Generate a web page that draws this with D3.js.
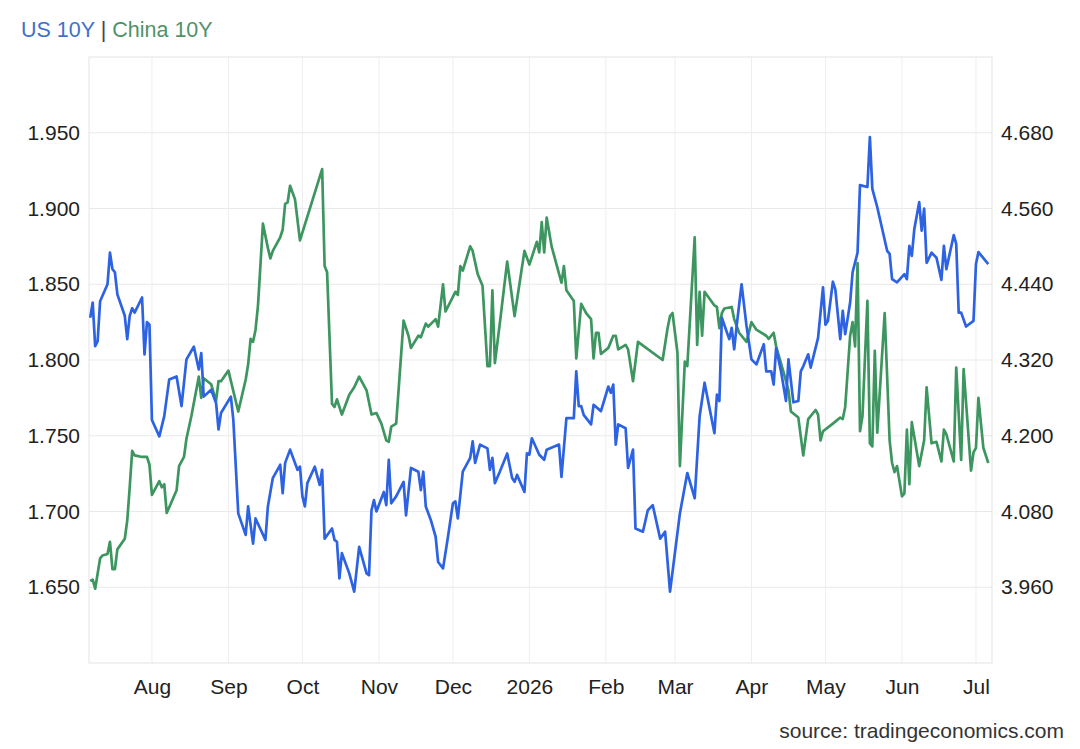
<!DOCTYPE html>
<html>
<head>
<meta charset="utf-8">
<script src="https://cdn.jsdelivr.net/npm/d3@7"></script>
<style>
  body { margin: 0; background: #fff; }
  text { font-family: "Liberation Sans", Arial, sans-serif; }
</style>
</head>
<body>
<div class="chart"></div>
<script>
// US 10Y (right axis)
const usDates = [
  "2025-07-07","2025-07-08","2025-07-09","2025-07-10","2025-07-11","2025-07-14","2025-07-15","2025-07-16","2025-07-17","2025-07-18",
  "2025-07-21","2025-07-22","2025-07-23","2025-07-24","2025-07-25","2025-07-28","2025-07-29","2025-07-30","2025-07-31","2025-08-01",
  "2025-08-04","2025-08-06","2025-08-08","2025-08-11","2025-08-13","2025-08-15","2025-08-18","2025-08-20","2025-08-21","2025-08-22",
  "2025-08-25","2025-08-27","2025-08-28","2025-08-29","2025-09-02","2025-09-03","2025-09-05","2025-09-08","2025-09-09","2025-09-11",
  "2025-09-12","2025-09-16","2025-09-17","2025-09-19","2025-09-22","2025-09-23","2025-09-24","2025-09-26","2025-09-29","2025-09-30",
  "2025-10-01","2025-10-02","2025-10-03","2025-10-06","2025-10-08","2025-10-09","2025-10-10","2025-10-13","2025-10-14","2025-10-15",
  "2025-10-16","2025-10-17","2025-10-20","2025-10-22","2025-10-24","2025-10-27","2025-10-28","2025-10-29","2025-10-30","2025-10-31",
  "2025-11-03","2025-11-04","2025-11-05","2025-11-06","2025-11-08","2025-11-11","2025-11-12","2025-11-14","2025-11-17","2025-11-18",
  "2025-11-19","2025-11-20","2025-11-22","2025-11-24","2025-11-25","2025-11-27","2025-11-29","2025-12-01","2025-12-02","2025-12-03",
  "2025-12-05","2025-12-08","2025-12-09","2025-12-10","2025-12-12","2025-12-15","2025-12-16","2025-12-17","2025-12-18","2025-12-20",
  "2025-12-23","2025-12-25","2025-12-26","2025-12-27","2025-12-30","2025-12-31","2026-01-01","2026-01-02","2026-01-05","2026-01-07",
  "2026-01-08","2026-01-13","2026-01-14","2026-01-16","2026-01-19","2026-01-20","2026-01-21","2026-01-22","2026-01-23","2026-01-26",
  "2026-01-27","2026-01-30","2026-02-02","2026-02-03","2026-02-04","2026-02-05","2026-02-06","2026-02-09","2026-02-10","2026-02-12",
  "2026-02-13","2026-02-16","2026-02-18","2026-02-20","2026-02-23","2026-02-25","2026-02-27","2026-03-03","2026-03-06","2026-03-09",
  "2026-03-11","2026-03-13","2026-03-17","2026-03-18","2026-03-19","2026-03-20","2026-03-23","2026-03-24","2026-03-25","2026-03-26",
  "2026-03-28","2026-03-30","2026-04-01","2026-04-03","2026-04-06","2026-04-07","2026-04-09","2026-04-10","2026-04-11","2026-04-13",
  "2026-04-15","2026-04-16","2026-04-18","2026-04-20","2026-04-21","2026-04-22","2026-04-24","2026-04-25","2026-04-28","2026-04-30",
  "2026-05-01","2026-05-02","2026-05-04","2026-05-05","2026-05-07","2026-05-08","2026-05-09","2026-05-11","2026-05-12","2026-05-14",
  "2026-05-15","2026-05-18","2026-05-19","2026-05-20","2026-05-22","2026-05-26","2026-05-27","2026-05-28","2026-05-30","2026-06-02",
  "2026-06-03","2026-06-04","2026-06-05","2026-06-06","2026-06-08","2026-06-09","2026-06-10","2026-06-11","2026-06-13","2026-06-15",
  "2026-06-17","2026-06-18","2026-06-19","2026-06-22","2026-06-23","2026-06-24","2026-06-25","2026-06-27","2026-06-30","2026-07-01",
  "2026-07-02","2026-07-06"
];
const usValues = [
  4.387,4.411,4.342,4.350,4.413,4.440,4.490,4.464,4.459,4.424,
  4.390,4.353,4.390,4.402,4.395,4.419,4.329,4.380,4.376,4.225,
  4.199,4.231,4.289,4.294,4.247,4.321,4.341,4.305,4.331,4.262,
  4.273,4.252,4.210,4.236,4.262,4.225,4.077,4.043,4.088,4.029,
  4.069,4.035,4.088,4.133,4.154,4.109,4.157,4.178,4.146,4.151,
  4.104,4.088,4.125,4.151,4.122,4.146,4.037,4.053,4.035,4.032,
  3.974,4.014,3.982,3.953,4.024,3.982,3.979,4.082,4.098,4.080,
  4.111,4.090,4.162,4.093,4.104,4.127,4.074,4.149,4.143,4.114,
  4.143,4.088,4.067,4.040,4.000,3.990,4.040,4.093,4.096,4.069,
  4.143,4.165,4.191,4.157,4.186,4.180,4.146,4.165,4.125,4.143,
  4.172,4.133,4.127,4.138,4.111,4.172,4.170,4.196,4.170,4.162,
  4.178,4.186,4.135,4.228,4.228,4.302,4.247,4.247,4.233,4.218,
  4.249,4.239,4.278,4.268,4.281,4.186,4.218,4.212,4.149,4.178,
  4.053,4.048,4.082,4.090,4.037,4.048,3.953,4.077,4.141,4.101,
  4.231,4.284,4.204,4.265,4.255,4.387,4.353,4.371,4.337,4.374,
  4.440,4.374,4.321,4.313,4.345,4.302,4.302,4.281,4.339,4.302,
  4.255,4.321,4.253,4.255,4.302,4.310,4.329,4.308,4.355,4.435,
  4.376,4.382,4.444,4.432,4.353,4.398,4.361,4.411,4.459,4.490,
  4.597,4.594,4.673,4.591,4.562,4.493,4.488,4.448,4.443,4.456,
  4.448,4.501,4.485,4.527,4.570,4.525,4.560,4.474,4.490,4.482,
  4.447,4.501,4.464,4.518,4.504,4.395,4.395,4.373,4.382,4.472,
  4.491,4.472
];

// China 10Y (left axis)
const cnDates = [
  "2025-07-07","2025-07-08","2025-07-09","2025-07-11","2025-07-12","2025-07-14","2025-07-15","2025-07-16","2025-07-17","2025-07-18",
  "2025-07-21","2025-07-22","2025-07-23","2025-07-24","2025-07-25","2025-07-28","2025-07-30","2025-07-31","2025-08-01","2025-08-04",
  "2025-08-05","2025-08-06","2025-08-07","2025-08-11","2025-08-12","2025-08-14","2025-08-15","2025-08-17","2025-08-20","2025-08-21",
  "2025-08-22","2025-08-25","2025-08-27","2025-08-28","2025-08-29","2025-09-01","2025-09-05","2025-09-08","2025-09-09","2025-09-10",
  "2025-09-11","2025-09-12","2025-09-13","2025-09-15","2025-09-17","2025-09-18","2025-09-19","2025-09-22","2025-09-23","2025-09-24",
  "2025-09-25","2025-09-26","2025-09-28","2025-09-30","2025-10-09","2025-10-10","2025-10-11","2025-10-13","2025-10-14","2025-10-15",
  "2025-10-17","2025-10-20","2025-10-22","2025-10-24","2025-10-27","2025-10-29","2025-10-31","2025-11-02","2025-11-04","2025-11-05",
  "2025-11-06","2025-11-08","2025-11-11","2025-11-13","2025-11-14","2025-11-17","2025-11-18","2025-11-20","2025-11-21","2025-11-24",
  "2025-11-25","2025-11-27","2025-11-28","2025-12-02","2025-12-03","2025-12-04","2025-12-05","2025-12-08","2025-12-09","2025-12-11",
  "2025-12-13","2025-12-15","2025-12-16","2025-12-17","2025-12-18","2025-12-20","2025-12-23","2025-12-26","2025-12-30","2026-01-01",
  "2026-01-04","2026-01-05","2026-01-06","2026-01-07","2026-01-08","2026-01-10","2026-01-14","2026-01-15","2026-01-16","2026-01-19",
  "2026-01-20","2026-01-22","2026-01-24","2026-01-26","2026-01-27","2026-01-28","2026-01-29","2026-01-30","2026-02-02","2026-02-04",
  "2026-02-05","2026-02-06","2026-02-09","2026-02-10","2026-02-12","2026-02-14","2026-02-24","2026-02-26","2026-02-27","2026-02-28",
  "2026-03-02","2026-03-03","2026-03-05","2026-03-06","2026-03-09","2026-03-10","2026-03-11","2026-03-12","2026-03-13","2026-03-17",
  "2026-03-18","2026-03-19","2026-03-20","2026-03-21","2026-03-24","2026-03-25","2026-03-27","2026-03-30","2026-04-01","2026-04-03",
  "2026-04-07","2026-04-08","2026-04-10","2026-04-11","2026-04-14","2026-04-16","2026-04-17","2026-04-20","2026-04-22","2026-04-24",
  "2026-04-27","2026-04-28","2026-04-29","2026-04-30","2026-05-04","2026-05-07","2026-05-08","2026-05-09","2026-05-11","2026-05-12",
  "2026-05-13","2026-05-14","2026-05-15","2026-05-16","2026-05-18","2026-05-19","2026-05-20","2026-05-21","2026-05-22","2026-05-25",
  "2026-05-27","2026-05-28","2026-05-29","2026-05-30","2026-06-01","2026-06-02","2026-06-03","2026-06-04","2026-06-05","2026-06-08",
  "2026-06-10","2026-06-11","2026-06-13","2026-06-15","2026-06-17","2026-06-18","2026-06-19","2026-06-22","2026-06-23","2026-06-25",
  "2026-06-26","2026-06-29","2026-06-30","2026-07-01","2026-07-02","2026-07-04","2026-07-06"
];
const cnValues = [
  1.654,1.655,1.649,1.669,1.671,1.672,1.680,1.662,1.662,1.675,
  1.682,1.694,1.716,1.740,1.737,1.736,1.736,1.731,1.711,1.720,
  1.716,1.718,1.699,1.714,1.730,1.736,1.748,1.763,1.789,1.775,
  1.788,1.784,1.773,1.786,1.786,1.793,1.766,1.787,1.797,1.814,
  1.812,1.820,1.836,1.890,1.874,1.867,1.872,1.881,1.886,1.903,
  1.904,1.915,1.906,1.879,1.926,1.862,1.858,1.771,1.769,1.774,
  1.764,1.777,1.782,1.789,1.780,1.764,1.765,1.758,1.747,1.746,
  1.756,1.758,1.826,1.816,1.808,1.816,1.815,1.824,1.822,1.827,
  1.822,1.850,1.832,1.845,1.843,1.862,1.859,1.875,1.872,1.857,
  1.849,1.796,1.796,1.846,1.798,1.824,1.865,1.829,1.872,1.863,
  1.878,1.871,1.891,1.871,1.894,1.875,1.851,1.862,1.846,1.839,
  1.801,1.837,1.831,1.827,1.801,1.818,1.818,1.804,1.808,1.816,
  1.816,1.807,1.810,1.807,1.786,1.812,1.800,1.821,1.829,1.831,
  1.805,1.730,1.799,1.796,1.881,1.810,1.845,1.816,1.845,1.836,
  1.835,1.821,1.831,1.834,1.835,1.827,1.818,1.812,1.825,1.820,
  1.816,1.814,1.818,1.809,1.792,1.780,1.766,1.762,1.737,1.761,
  1.767,1.764,1.747,1.753,1.758,1.762,1.761,1.769,1.816,1.825,
  1.809,1.864,1.753,1.763,1.839,1.745,1.743,1.806,1.752,1.831,
  1.747,1.732,1.726,1.730,1.710,1.712,1.754,1.718,1.759,1.730,
  1.747,1.782,1.745,1.746,1.733,1.754,1.751,1.733,1.795,1.734,
  1.794,1.727,1.739,1.742,1.775,1.742,1.732
];

const leftTicks = [1.65, 1.70, 1.75, 1.80, 1.85, 1.90, 1.95];
const rightTicks = [3.96, 4.08, 4.20, 4.32, 4.44, 4.56, 4.68];

const usColor = '#2d63e2';
const cnColor = '#3d9660';

const width = 1080, height = 749;
const margin = {top: 57, right: 88, bottom: 86, left: 89};
const graphWidth = width - margin.left - margin.right;
const graphHeight = height - margin.top - margin.bottom;

const parseDate = d3.timeParse('%Y-%m-%d');
const usData = usDates.map((d, i) => ({date: parseDate(d), value: usValues[i]}));
const cnData = cnDates.map((d, i) => ({date: parseDate(d), value: cnValues[i]}));

const svg = d3.select('.chart').append('svg')
    .attr('width', width)
    .attr('height', height);

const graph = svg.append('g')
    .attr('transform', `translate(${margin.left}, ${margin.top})`);

// scales
const x = d3.scaleTime()
    .domain([new Date(2025, 6, 6, 12), new Date(2026, 6, 7, 12)])
    .range([0, graphWidth]);

const yLeft = d3.scaleLinear()
    .domain([1.6, 2.0])
    .range([graphHeight, 0]);

const yRight = d3.scaleLinear()
    .domain([3.84, 4.80])
    .range([graphHeight, 0]);

const months = x.ticks(d3.timeMonth.every(1));

// grid
graph.append('g')
    .selectAll('line.h')
    .data(leftTicks)
    .enter().append('line')
    .attr('x1', 0).attr('x2', graphWidth)
    .attr('y1', d => yLeft(d)).attr('y2', d => yLeft(d))
    .attr('stroke', '#e9e9e9');

graph.append('g')
    .selectAll('line.v')
    .data(months)
    .enter().append('line')
    .attr('x1', d => x(d)).attr('x2', d => x(d))
    .attr('y1', 0).attr('y2', graphHeight)
    .attr('stroke', '#eeeeee');

// frame
graph.append('rect')
    .attr('width', graphWidth)
    .attr('height', graphHeight)
    .attr('fill', 'none')
    .attr('stroke', '#e3e3e3');

// axes
const fmtMonth = d => d.getMonth() === 0 ? d3.timeFormat('%Y')(d) : d3.timeFormat('%b')(d);

const xAxis = graph.append('g')
    .attr('transform', `translate(0, ${graphHeight})`)
    .call(d3.axisBottom(x).tickValues(months).tickFormat(fmtMonth).tickSize(0).tickPadding(16));

const leftAxis = graph.append('g')
    .call(d3.axisLeft(yLeft).tickValues(leftTicks).tickFormat(d3.format('.3f')).tickSize(0).tickPadding(9));

const rightAxis = graph.append('g')
    .attr('transform', `translate(${graphWidth}, 0)`)
    .call(d3.axisRight(yRight).tickValues(rightTicks).tickFormat(d3.format('.3f')).tickSize(0).tickPadding(9));

[xAxis, leftAxis, rightAxis].forEach(a => {
    a.select('.domain').remove();
    a.selectAll('text')
        .attr('font-family', '"Liberation Sans", Arial, sans-serif')
        .attr('font-size', 21)
        .attr('fill', '#222');
});

// lines
const usLine = d3.line()
    .x(d => x(d.date))
    .y(d => yRight(d.value));

const cnLine = d3.line()
    .x(d => x(d.date))
    .y(d => yLeft(d.value));

graph.append('path')
    .datum(cnData)
    .attr('d', cnLine)
    .attr('fill', 'none')
    .attr('stroke', cnColor)
    .attr('stroke-width', 2.7)
    .attr('stroke-linejoin', 'round');

graph.append('path')
    .datum(usData)
    .attr('d', usLine)
    .attr('fill', 'none')
    .attr('stroke', usColor)
    .attr('stroke-width', 2.7)
    .attr('stroke-linejoin', 'round');

// legend title
const title = svg.append('text')
    .attr('x', 21)
    .attr('y', 36.5)
    .attr('font-size', 21.5);
title.append('tspan').attr('fill', '#416fcc').text('US 10Y');
title.append('tspan').attr('fill', '#444').text(' | ');
title.append('tspan').attr('fill', '#4f9268').text('China 10Y');

// source
svg.append('text')
    .attr('x', 1064)
    .attr('y', 738)
    .attr('text-anchor', 'end')
    .attr('font-size', 21)
    .attr('fill', '#333')
    .text('source: tradingeconomics.com');
</script>
</body>
</html>
